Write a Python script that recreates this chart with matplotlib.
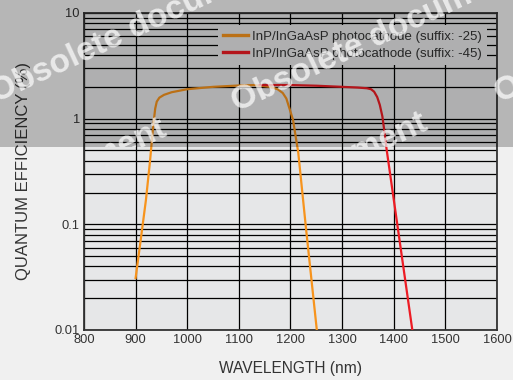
import matplotlib
matplotlib.use("Agg")
import matplotlib.pyplot as plt
from matplotlib.patches import Rectangle
from matplotlib.ticker import FixedLocator, FuncFormatter, LogLocator, NullFormatter

plt.rcParams['font.family'] = ['Liberation Sans', 'DejaVu Sans']

# spectral response, quantum efficiency in %
wl_25 = [900, 910, 920, 928, 934, 938, 941, 946, 955, 970, 1000, 1050, 1100, 1130,
         1160, 1175, 1185, 1192, 1198, 1205, 1210, 1215, 1230, 1251]
qe_25 = [0.031, 0.072, 0.17, 0.40, 0.85, 1.25, 1.45, 1.58, 1.68, 1.78, 1.9, 2.0, 2.06, 2.08,
         2.0, 1.9, 1.75, 1.55, 1.25, 0.97, 0.68, 0.48, 0.092, 0.01]

wl_45 = [1140, 1200, 1250, 1300, 1330, 1348, 1356, 1362, 1368, 1373, 1378, 1382, 1386,
         1410, 1436]
qe_45 = [2.08, 2.08, 2.05, 2.0, 1.97, 1.94, 1.9, 1.8, 1.6, 1.35, 1.05, 0.75, 0.52,
         0.078, 0.01]

labels = ["InP/InGaAsP photocathode (suffix: -25)",
          "InP/InGaAsP photocathode (suffix: -45)"]
x_ticks = [800, 900, 1000, 1100, 1200, 1300, 1400, 1500, 1600]
y_ticks = [0.01, 0.1, 1, 10]

txt = '#333333'

fig = plt.figure(figsize=(5.13, 3.8), dpi=100)
fig.patch.set_facecolor('#f0f0f0')
ax = fig.add_axes([0.1637, 0.1316, 0.8051, 0.8342])
ax.set_facecolor('#e6e7e8')

ax.set_yscale('log')
ax.set_xlim(800, 1600)
ax.set_ylim(0.01, 10)
ax.xaxis.set_major_locator(FixedLocator(x_ticks))
ax.yaxis.set_major_locator(FixedLocator(y_ticks))
ax.yaxis.set_minor_locator(LogLocator(base=10, subs=range(2, 10)))
ax.yaxis.set_minor_formatter(NullFormatter())
ax.yaxis.set_major_formatter(FuncFormatter(lambda v, p: '%g' % v))

ax.grid(True, which='both', color='black', lw=0.9)
ax.set_axisbelow(True)
ax.tick_params(which='both', length=0, labelsize=9.3, labelcolor=txt)
ax.tick_params(axis='x', pad=3)
ax.tick_params(axis='y', pad=3)
for s in ax.spines.values():
    s.set_color('#333333')
    s.set_linewidth(1.3)

ax.plot(wl_25, qe_25, color='#f7941d', lw=1.6, label=labels[0], zorder=3)
ax.plot(wl_45, qe_45, color='#ed1c24', lw=1.6, label=labels[1], zorder=4)

ax.set_xlabel('WAVELENGTH (nm)', fontsize=11.2, color=txt)
ax.set_ylabel('QUANTUM EFFICIENCY (%)', fontsize=12, color=txt)
ax.xaxis.set_label_coords(0.5, -0.097)
ax.yaxis.set_label_coords(-0.128, 0.5)

leg = ax.legend(loc='upper right', bbox_to_anchor=(0.976, 0.962), borderaxespad=0,
                fontsize=9.5, frameon=True, fancybox=False, facecolor='#e6e7e8',
                edgecolor='none', framealpha=1, handlelength=1.9, handletextpad=0.3,
                labelspacing=0.4, borderpad=0.4)
for t in leg.get_texts():
    t.set_color(txt)
for h in leg.get_lines():
    h.set_linewidth(2.4)

# darker band over the upper part of the figure
band = Rectangle((0, 0.613), 1, 0.387, transform=fig.transFigure, facecolor='black',
                 alpha=0.24, edgecolor='none', zorder=10)
fig.patches.append(band)

# watermark, clipped to the band
clip = Rectangle((0, 0.613), 1, 0.387, transform=fig.transFigure, facecolor='none',
                 edgecolor='none')
marks = [(-0.015, 0.75, 'left'), (0.455, 0.725, 'left'), (0.968, 0.75, 'left'),
         (0.322, 0.665, 'right'), (0.83, 0.68, 'right')]
for mx, my, ha in marks:
    t = fig.text(mx, my, 'Obsolete document', fontsize=24, fontweight='bold',
                 color='white', alpha=0.7, rotation=25, rotation_mode='anchor',
                 ha=ha, va='center', zorder=11)
    t.set_clip_path(clip)

fig.savefig('out.png', dpi=100, facecolor=fig.get_facecolor())
